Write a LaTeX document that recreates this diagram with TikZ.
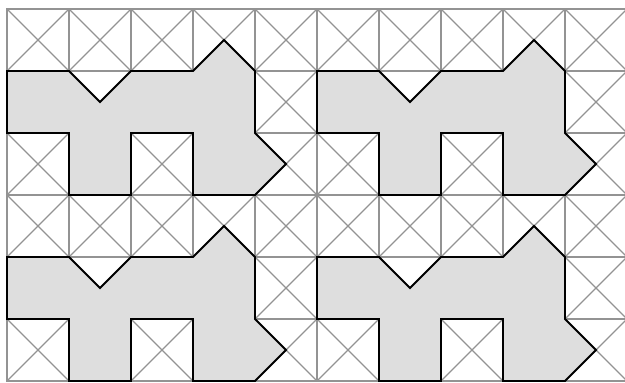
\documentclass[tikz,border=0pt]{standalone}
\usepackage{tikz}

\begin{document}
\begin{tikzpicture}[
  gridline/.style={draw=gray!85, line width=0.55pt},
  tile/.style={draw=black, line width=0.9pt, fill=black!13, line join=miter}
]
\useasboundingbox (-0.113,-0.032) rectangle (9.968,6.145);
\clip (-0.113,-0.032) rectangle (9.968,6.145);

% square grid, every cell crossed
\foreach \x in {0,...,9}
  \foreach \y in {0,...,5} {
    \draw[gridline] (\x,\y) rectangle ++(1,1);
    \draw[gridline] (\x,\y) -- ++(1,1) (\x+1,\y) -- ++(-1,1);
  }

% the four copies of the tile
\foreach \dx/\dy in {0/0,5/0,0/-3,5/-3}
  \draw[tile, shift={(\dx,\dy)}] (0,5) -- (1,5) -- (1.5,4.5) -- (2,5) -- (3,5)
    -- (3.5,5.5) -- (4,5) -- (4,4) -- (4.5,3.5) -- (4,3) -- (3,3) -- (3,4)
    -- (2,4) -- (2,3) -- (1,3) -- (1,4) -- (0,4) -- cycle;
\end{tikzpicture}
\end{document}
